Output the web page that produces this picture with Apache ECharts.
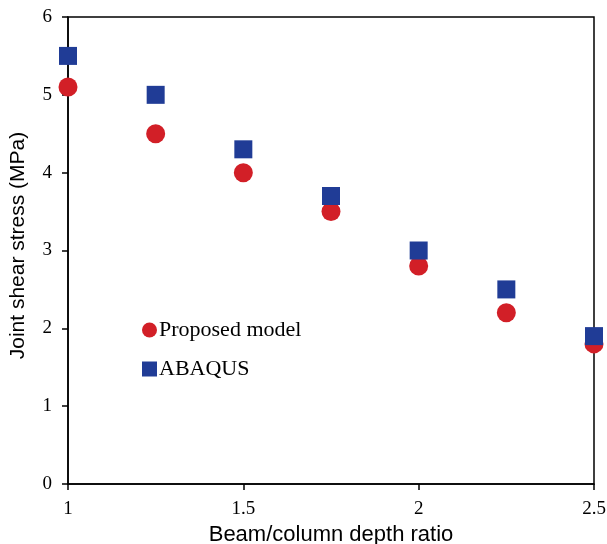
<!DOCTYPE html>
<html><head><meta charset="utf-8">
<script src="https://cdn.jsdelivr.net/npm/echarts@6/dist/echarts.min.js"></script>
<style>html,body{margin:0;padding:0;background:#fff}#c{width:607px;height:544px}</style>
</head><body><div id="c"></div>
<script>
const ratios = [1, 1.25, 1.5, 1.75, 2, 2.25, 2.5];
const proposed = [5.1, 4.5, 4.0, 3.5, 2.8, 2.2, 1.8];
const abaqus = [5.5, 5.0, 4.3, 3.7, 3.0, 2.5, 1.9];
const xTicks = [1, 1.5, 2, 2.5];
const yTicks = [0, 1, 2, 3, 4, 5, 6];

const chart = echarts.init(document.getElementById('c'));
const serif = '"Liberation Serif", "Times New Roman", serif';
const sans = '"Liberation Sans", Arial, sans-serif';
chart.setOption({
  animation: false,
  backgroundColor: '#fff',
  grid: { left: 68, right: 13, top: 17, bottom: 60, containLabel: false, outerBoundsMode: 'none',
    show: true, borderColor: '#000', borderWidth: 1.5 },
  legend: {
    orient: 'vertical', left: 142, top: 319, padding: 0, itemGap: 17, itemWidth: 15, itemHeight: 15,
    textStyle: { fontFamily: serif, fontSize: 22, color: '#000', padding: [0, 0, 0, -3] },
    data: [{ name: 'Proposed model', icon: 'circle' }, { name: 'ABAQUS', icon: 'rect' }]
  },
  xAxis: {
    type: 'value', min: 1, max: 2.5, interval: 0.5,
    name: 'Beam/column depth ratio', nameLocation: 'middle', nameGap: 35,
    nameTextStyle: { fontFamily: sans, fontSize: 22, color: '#000' },
    axisLine: { lineStyle: { color: '#000', width: 1.5 } },
    axisTick: { show: true, inside: false, length: 6, lineStyle: { color: '#000', width: 1.5 } },
    axisLabel: { fontFamily: serif, fontSize: 19, color: '#000', margin: 16,
      formatter: v => xTicks.includes(v) ? String(v) : '' },
    splitLine: { show: false }
  },
  yAxis: {
    type: 'value', min: 0, max: 6, interval: 1,
    name: 'Joint shear stress (MPa)', nameLocation: 'middle', nameGap: 39,
    nameTextStyle: { fontFamily: sans, fontSize: 21, color: '#000', padding: [0, 0, 0, 10] },
    axisLine: { lineStyle: { color: '#000', width: 1.5 } },
    axisTick: { show: true, inside: false, length: 6, lineStyle: { color: '#000', width: 1.5 } },
    axisLabel: { fontFamily: serif, fontSize: 19, color: '#000', margin: 16,
      formatter: v => yTicks.includes(v) ? String(v) : '' },
    splitLine: { show: false }
  },
  series: [
    { name: 'Proposed model', type: 'scatter', symbol: 'circle', symbolSize: 19, clip: false,
      itemStyle: { color: '#d21f27', opacity: 1 },
      data: ratios.map((x, i) => [x, proposed[i]]) },
    { name: 'ABAQUS', type: 'scatter', symbol: 'rect', symbolSize: 18, clip: false,
      itemStyle: { color: '#203c96', opacity: 1 },
      data: ratios.map((x, i) => [x, abaqus[i]]) }
  ]
});
</script></body></html>
